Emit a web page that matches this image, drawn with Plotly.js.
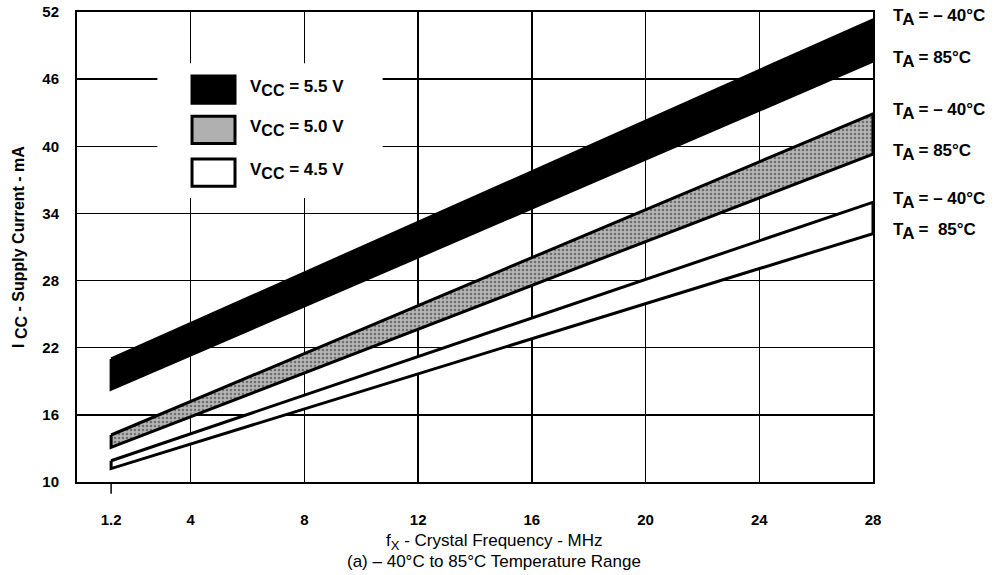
<!DOCTYPE html>
<html>
<head>
<meta charset="utf-8">
<script src="https://cdn.plot.ly/plotly-3.0.1.min.js"></script>
<style>html,body{margin:0;padding:0;background:#fff;}#chart{width:1008px;height:575px;}</style>
</head>
<body>
<div id="chart"></div>
<script>
// ---- data ----
const freqMHz = [1.2, 28];
const vcc55_m40C = [21.0, 51.3];
const vcc55_85C  = [18.3, 47.6];
const vcc50_m40C = [14.2, 42.9];
const vcc50_85C  = [13.1, 39.3];
const vcc45_m40C = [11.9, 35.0];
const vcc45_85C  = [11.2, 32.2];

const SUB = (s, px) => '<sub><span style="font-size:' + px + 'px">' + s + '</span></sub>';
const seriesNames = ['V' + SUB('CC', 16) + ' = 5.5 V', 'V' + SUB('CC', 16) + ' = 5.0 V', 'V' + SUB('CC', 16) + ' = 4.5 V'];
const tempLabels = ['T' + SUB('A', 17) + ' = \u2013 40°C', 'T' + SUB('A', 17) + ' = 85°C'];
const tempLabelLast = 'T' + SUB('A', 17) + ' =&nbsp;&nbsp;85°C';
const xTitleLines = ['f' + SUB('X', 13) + ' - Crystal Frequency - MHz', '(a) \u2013 40°C to 85°C Temperature Range'];
const yTitle = 'I ' + SUB('CC', 16) + ' - Supply Current - mA';
const xTickVals = [1.2, 4, 8, 12, 16, 20, 24, 28];
const xTickText = ['1.2', '4', '8', '12', '16', '20', '24', '28'];
const xGridVals = [4, 8, 12, 16, 20, 24];
const yTickVals = [10, 16, 22, 28, 34, 40, 46, 52];

const FONT = 'Liberation Sans, Arial, Helvetica, sans-serif';

function band(top, bottom) {
  return {
    x: freqMHz.concat(freqMHz.slice().reverse()).concat([freqMHz[0]]),
    y: top.concat(bottom.slice().reverse()).concat([top[0]])
  };
}

const bands = [
  {top: vcc55_m40C, bot: vcc55_85C, fill: '#000000', pattern: null, name: seriesNames[0]},
  {top: vcc50_m40C, bot: vcc50_85C, fill: '#b0b0b0', pattern: {shape: '.', bgcolor: '#b4b4b4', fgcolor: '#6e6e6e', size: 4, solidity: 0.3}, name: seriesNames[1]},
  {top: vcc45_m40C, bot: vcc45_85C, fill: '#ffffff', pattern: null, name: seriesNames[2]}
];

const traces = bands.map(b => {
  const p = band(b.top, b.bot);
  const t = {
    type: 'scatter', mode: 'lines', x: p.x, y: p.y, fill: 'toself',
    fillcolor: b.fill, line: {color: '#000', width: 3}, name: b.name,
    showlegend: false, hoverinfo: 'skip'
  };
  if (b.pattern) t.fillpattern = b.pattern;
  return t;
});

const boldFont = size => ({family: FONT, size: size, color: '#000', weight: 'bold'});

// right-hand temperature annotations at band ends
const annotations = [];
bands.forEach((b, i) => {
  const last = freqMHz.length - 1;
  annotations.push({x: freqMHz[last], y: b.top[last], xref: 'x', yref: 'y', text: tempLabels[0],
    showarrow: false, xanchor: 'left', xshift: 18, yshift: 2, font: boldFont(17)});
  annotations.push({x: freqMHz[last], y: b.bot[last], xref: 'x', yref: 'y', text: i === 2 ? tempLabelLast : tempLabels[1],
    showarrow: false, xanchor: 'left', xshift: 18, yshift: 2, font: boldFont(17)});
});

// x-axis title lines
annotations.push({x: 0.524, y: -0.127, xref: 'paper', yref: 'paper', text: xTitleLines[0], showarrow: false,
  xanchor: 'center', yanchor: 'middle', font: {family: FONT, size: 17, color: '#000'}});
annotations.push({x: 0.524, y: -0.1696, xref: 'paper', yref: 'paper', text: xTitleLines[1], showarrow: false,
  xanchor: 'center', yanchor: 'middle', font: {family: FONT, size: 17, color: '#000'}});

// custom legend
const shapes = [];
shapes.push({type: 'rect', xref: 'paper', yref: 'paper', x0: 0.101, x1: 0.384, y0: 0.604, y1: 0.891,
  fillcolor: '#fff', line: {width: 0}, layer: 'above'});
const legY = [0.835, 0.749, 0.658];
bands.forEach((b, i) => {
  shapes.push({type: 'rect', xref: 'paper', yref: 'paper', x0: 0.1445, x1: 0.1985,
    y0: legY[i] - 0.029, y1: legY[i] + 0.029, fillcolor: b.fill, line: {color: '#000', width: 3}, layer: 'above'});
  annotations.push({x: 0.2148, y: legY[i], xref: 'paper', yref: 'paper', text: b.name, showarrow: false,
    xanchor: 'left', yanchor: 'middle', yshift: 2, font: boldFont(17)});
});
// outside tick mark at the first x tick
shapes.push({type: 'line', xref: 'x', yref: 'paper', x0: xTickVals[0], x1: xTickVals[0], y0: -0.025, y1: 0,
  line: {color: '#000', width: 1.5}});

const layout = {
  width: 1008, height: 575,
  margin: {l: 77, r: 135, t: 12, b: 93, pad: 0},
  paper_bgcolor: '#fff', plot_bgcolor: '#fff',
  showlegend: false,
  font: {family: FONT, color: '#000', size: 14},
  xaxis: {
    range: [0, 28], tickvals: xTickVals, ticktext: xTickText, ticks: '',
    showgrid: false, zeroline: false,
    minor: {tickvals: xGridVals, showgrid: true, gridcolor: '#000', gridwidth: 1.5, ticks: ''},
    showline: true, linecolor: '#000', linewidth: 2, mirror: true,
    tickfont: boldFont(15),
    ticklabelstandoff: 23
  },
  yaxis: {
    range: [10, 52], tickvals: yTickVals, ticks: '',
    showgrid: true, gridcolor: '#000', gridwidth: 1.5, zeroline: false,
    showline: true, linecolor: '#000', linewidth: 2, mirror: true,
    tickfont: boldFont(15),
    ticklabelstandoff: 13,
    title: {text: yTitle, font: boldFont(16), standoff: 14}
  },
  annotations: annotations,
  shapes: shapes
};

Plotly.newPlot('chart', traces, layout, {displayModeBar: false, staticPlot: true});
</script>
</body>
</html>
